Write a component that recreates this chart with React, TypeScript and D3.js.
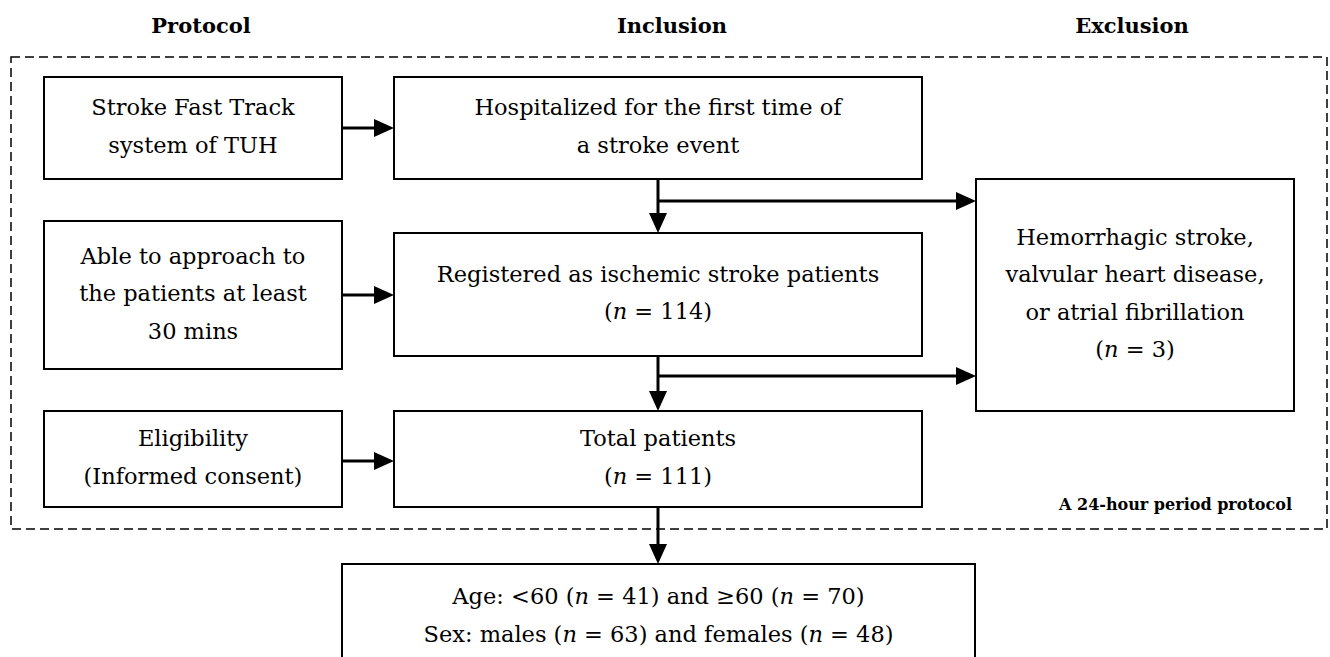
import React, { useEffect, useRef } from "react";
import * as d3 from "d3";

// column headers
const headers = ["Protocol", "Inclusion", "Exclusion"];

// left column: protocol steps
const protocolSteps = [
  ["Stroke Fast Track", "system of TUH"],
  ["Able to approach to", "the patients at least", "30 mins"],
  ["Eligibility", "(Informed consent)"],
];

// middle column: inclusion steps (*n* = italic n)
const inclusionSteps = [
  ["Hospitalized for the first time of", "a stroke event"],
  ["Registered as ischemic stroke patients", "(*n* = 114)"],
  ["Total patients", "(*n* = 111)"],
];

// right column: exclusion
const exclusionLines = [
  "Hemorrhagic stroke,",
  "valvular heart disease,",
  "or atrial fibrillation",
  "(*n* = 3)",
];

// final summary box
const summaryLines = [
  "Age: <60 (*n* = 41) and \u226560 (*n* = 70)",
  "Sex: males (*n* = 63) and females (*n* = 48)",
];

const periodNote = "A 24-hour period protocol";

const W = 1330;
const H = 657;
const FONT = "'DejaVu Serif', serif";
const FS = 22.5;
const LINE_H = 37.5;

type Box = { x0: number; x1: number; y0: number; y1: number; lines: string[] };

const App = () => {
  const svgRef = useRef<SVGSVGElement>(null);

  useEffect(() => {
    document.body.style.margin = "0";
    const svg = d3.select(svgRef.current);
    svg.selectAll("*").remove();

    // column extents
    const colX = {
      protocol: [44, 342],
      inclusion: [394, 922],
      exclusion: [976, 1294],
    };
    const protocolRows = [
      [77, 179],
      [221, 369],
      [411, 507],
    ];
    const inclusionRows = [
      [77, 179],
      [233, 356],
      [411, 507],
    ];

    const boxes: Box[] = [];
    protocolSteps.forEach((lines, i) =>
      boxes.push({
        x0: colX.protocol[0],
        x1: colX.protocol[1],
        y0: protocolRows[i][0],
        y1: protocolRows[i][1],
        lines,
      })
    );
    inclusionSteps.forEach((lines, i) =>
      boxes.push({
        x0: colX.inclusion[0],
        x1: colX.inclusion[1],
        y0: inclusionRows[i][0],
        y1: inclusionRows[i][1],
        lines,
      })
    );
    boxes.push({ x0: colX.exclusion[0], x1: colX.exclusion[1], y0: 179, y1: 411, lines: exclusionLines });
    const summary: Box = { x0: 342, x1: 975, y0: 564, y1: 700, lines: summaryLines };
    boxes.push(summary);

    // dashed frame for the 24h protocol
    svg
      .append("rect")
      .attr("x", 11)
      .attr("y", 57)
      .attr("width", 1327 - 11)
      .attr("height", 529 - 57)
      .attr("fill", "none")
      .attr("stroke", "#000")
      .attr("stroke-width", 1.5)
      .attr("stroke-dasharray", "9,5");

    // headers
    const headerX = [201, 672, 1132];
    svg
      .selectAll("text.header")
      .data(headers)
      .enter()
      .append("text")
      .attr("class", "header")
      .attr("x", (d, i) => headerX[i])
      .attr("y", 33)
      .attr("text-anchor", "middle")
      .attr("font-family", FONT)
      .attr("font-weight", "bold")
      .attr("font-size", 21)
      .attr("fill", "#000")
      .text((d) => d);

    // boxes
    boxes.forEach((b) => {
      svg
        .append("rect")
        .attr("x", b.x0)
        .attr("y", b.y0)
        .attr("width", b.x1 - b.x0)
        .attr("height", b.y1 - b.y0)
        .attr("fill", "#fff")
        .attr("stroke", "#000")
        .attr("stroke-width", 2);

      const cx = (b.x0 + b.x1) / 2;
      const cy = b === summary ? 617 : (b.y0 + b.y1) / 2;
      const n = b.lines.length;
      b.lines.forEach((line, i) => {
        const t = svg
          .append("text")
          .attr("x", cx)
          .attr("y", cy + (i - (n - 1) / 2) * LINE_H + 6)
          .attr("text-anchor", "middle")
          .attr("font-family", FONT)
          .attr("font-size", FS)
          .attr("fill", "#000");
        line.split("*").forEach((part, j) => {
          if (!part) return;
          t.append("tspan")
            .attr("font-style", j % 2 === 1 ? "italic" : "normal")
            .text(part);
        });
      });
    });

    // arrows
    const arrow = (pts: [number, number][]) => {
      const [xa, ya] = pts[pts.length - 2];
      const [xb, yb] = pts[pts.length - 1];
      const len = 20;
      const half = 9;
      const ang = Math.atan2(yb - ya, xb - xa);
      const bx = xb - len * Math.cos(ang);
      const by = yb - len * Math.sin(ang);
      const shaft = pts.slice(0, -1).concat([[bx, by]]);
      svg
        .append("path")
        .attr("d", d3.line()(shaft))
        .attr("fill", "none")
        .attr("stroke", "#000")
        .attr("stroke-width", 3);
      const px = -Math.sin(ang) * half;
      const py = Math.cos(ang) * half;
      svg
        .append("path")
        .attr(
          "d",
          `M${xb},${yb}L${bx + px},${by + py}L${bx - px},${by - py}Z`
        )
        .attr("fill", "#000");
    };

    const midX = 658;
    // protocol -> inclusion
    arrow([[342, 128], [394, 128]]);
    arrow([[342, 295], [394, 295]]);
    arrow([[342, 461], [394, 461]]);
    // inclusion chain
    arrow([[midX, 179], [midX, 233]]);
    arrow([[midX, 356], [midX, 411]]);
    arrow([[midX, 507], [midX, 564]]);
    // branches to exclusion
    arrow([[midX, 201], [976, 201]]);
    arrow([[midX, 376], [976, 376]]);

    // note inside frame
    svg
      .append("text")
      .attr("x", 1292)
      .attr("y", 510)
      .attr("text-anchor", "end")
      .attr("font-family", FONT)
      .attr("font-weight", "bold")
      .attr("font-size", 16)
      .attr("fill", "#000")
      .text(periodNote);
  }, []);

  return (
    <svg
      ref={svgRef}
      width={W}
      height={H}
      style={{ display: "block", background: "#fff" }}
    />
  );
};

export default App;
